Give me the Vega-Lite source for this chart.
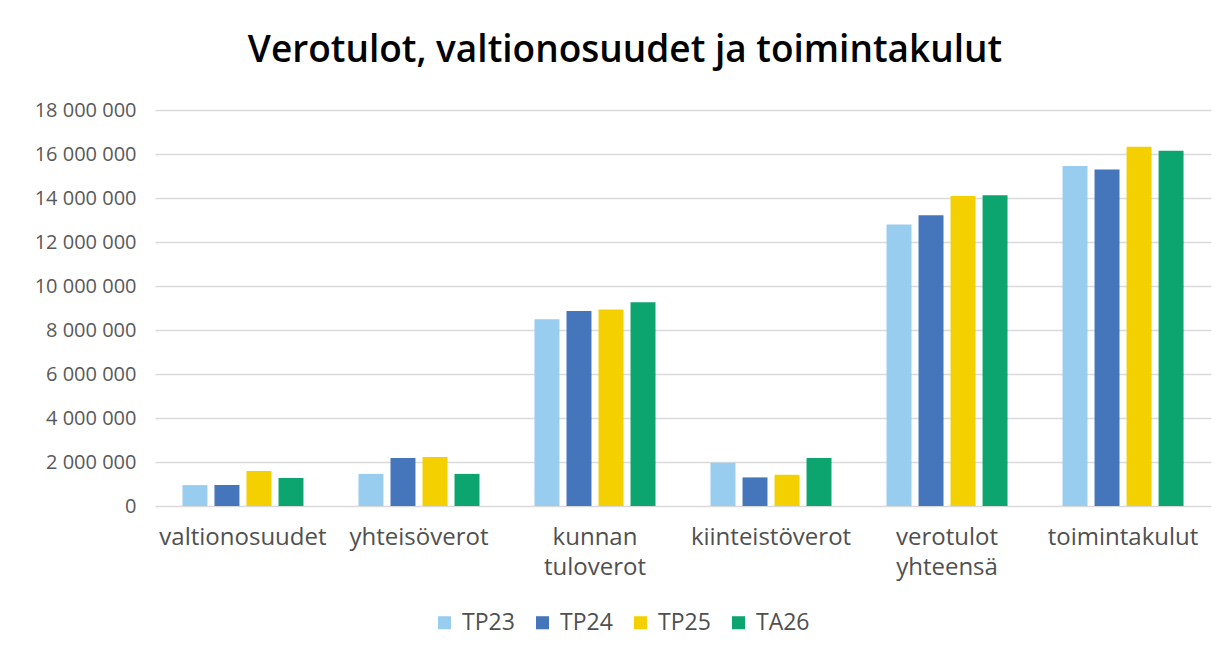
{
  "$schema": "https://vega.github.io/schema/vega-lite/v6.json",
  "autosize": {"type": "none"},
  "width": 1056,
  "height": 396,
  "padding": {"left": 155, "top": 110, "right": 20, "bottom": 148},
  "background": "white",
  "title": {
    "text": "Verotulot, valtionosuudet ja toimintakulut",
    "font": "Open Sans",
    "fontSize": 37,
    "fontWeight": 600,
    "color": "#000000",
    "anchor": "middle",
    "dx": -58,
    "offset": 30
  },
  "data": {
    "values": [
      {"kategoria": "valtionosuudet", "vuosi": "TP23", "arvo": 950000},
      {"kategoria": "valtionosuudet", "vuosi": "TP24", "arvo": 950000},
      {"kategoria": "valtionosuudet", "vuosi": "TP25", "arvo": 1590000},
      {"kategoria": "valtionosuudet", "vuosi": "TA26", "arvo": 1270000},
      {"kategoria": "yhteisöverot", "vuosi": "TP23", "arvo": 1460000},
      {"kategoria": "yhteisöverot", "vuosi": "TP24", "arvo": 2180000},
      {"kategoria": "yhteisöverot", "vuosi": "TP25", "arvo": 2230000},
      {"kategoria": "yhteisöverot", "vuosi": "TA26", "arvo": 1460000},
      {"kategoria": "kunnan tuloverot", "vuosi": "TP23", "arvo": 8490000},
      {"kategoria": "kunnan tuloverot", "vuosi": "TP24", "arvo": 8860000},
      {"kategoria": "kunnan tuloverot", "vuosi": "TP25", "arvo": 8930000},
      {"kategoria": "kunnan tuloverot", "vuosi": "TA26", "arvo": 9260000},
      {"kategoria": "kiinteistöverot", "vuosi": "TP23", "arvo": 1970000},
      {"kategoria": "kiinteistöverot", "vuosi": "TP24", "arvo": 1300000},
      {"kategoria": "kiinteistöverot", "vuosi": "TP25", "arvo": 1420000},
      {"kategoria": "kiinteistöverot", "vuosi": "TA26", "arvo": 2180000},
      {"kategoria": "verotulot yhteensä", "vuosi": "TP23", "arvo": 12800000},
      {"kategoria": "verotulot yhteensä", "vuosi": "TP24", "arvo": 13220000},
      {"kategoria": "verotulot yhteensä", "vuosi": "TP25", "arvo": 14090000},
      {"kategoria": "verotulot yhteensä", "vuosi": "TA26", "arvo": 14120000},
      {"kategoria": "toimintakulut", "vuosi": "TP23", "arvo": 15460000},
      {"kategoria": "toimintakulut", "vuosi": "TP24", "arvo": 15300000},
      {"kategoria": "toimintakulut", "vuosi": "TP25", "arvo": 16330000},
      {"kategoria": "toimintakulut", "vuosi": "TA26", "arvo": 16150000}
    ]
  },
  "mark": {"type": "bar"},
  "encoding": {
    "x": {
      "field": "kategoria",
      "type": "nominal",
      "sort": ["valtionosuudet", "yhteisöverot", "kunnan tuloverot", "kiinteistöverot", "verotulot yhteensä", "toimintakulut"],
      "scale": {"paddingInner": 0.3125, "paddingOuter": 0.156},
      "axis": {
        "title": null,
        "labelAngle": 0,
        "labelExpr": "split(datum.label, ' ')",
        "labelFont": "Open Sans",
        "labelFontSize": 24,
        "labelColor": "#505050",
        "labelLineHeight": 30,
        "labelPadding": 19,
        "ticks": false,
        "domain": false,
        "grid": false
      }
    },
    "xOffset": {
      "field": "vuosi",
      "type": "nominal",
      "sort": ["TP23", "TP24", "TP25", "TA26"],
      "scale": {"paddingInner": 0.22, "paddingOuter": 0}
    },
    "y": {
      "field": "arvo",
      "type": "quantitative",
      "scale": {"domain": [0, 18000000]},
      "axis": {
        "title": null,
        "values": [0, 2000000, 4000000, 6000000, 8000000, 10000000, 12000000, 14000000, 16000000, 18000000],
        "labelExpr": "replace(format(datum.value, ',d'), /,/g, ' ')",
        "labelFont": "Open Sans",
        "labelFontSize": 20,
        "labelColor": "#595959",
        "labelPadding": 19,
        "ticks": false,
        "domain": false,
        "gridColor": "#d9d9d9",
        "gridWidth": 1.5
      }
    },
    "color": {
      "field": "vuosi",
      "type": "nominal",
      "sort": ["TP23", "TP24", "TP25", "TA26"],
      "scale": {
        "domain": ["TP23", "TP24", "TP25", "TA26"],
        "range": ["#99cdf0", "#4576bc", "#f4d000", "#0ca570"]
      },
      "legend": {
        "title": null,
        "orient": "none",
        "direction": "horizontal",
        "legendX": 278,
        "legendY": 501,
        "symbolType": "square",
        "symbolSize": 170,
        "symbolStrokeWidth": 0,
        "labelFont": "Open Sans",
        "labelFontSize": 23,
        "labelColor": "#505050",
        "labelOffset": 6,
        "columnPadding": 16
      }
    }
  },
  "config": {
    "view": {"stroke": null}
  }
}
